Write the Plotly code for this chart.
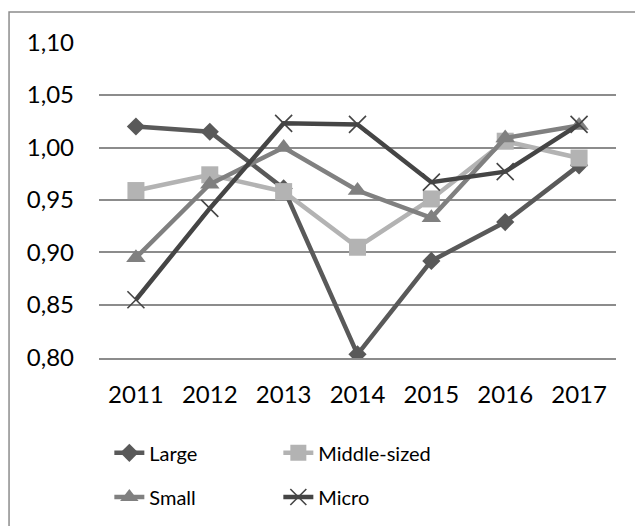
import plotly.graph_objects as go

years = ["2011", "2012", "2013", "2014", "2015", "2016", "2017"]
large = [1.020, 1.015, 0.961, 0.803, 0.892, 0.929, 0.983]
middle = [0.959, 0.974, 0.958, 0.905, 0.951, 1.006, 0.990]
small = [0.895, 0.965, 1.000, 0.959, 0.933, 1.009, 1.021]
micro = [0.855, 0.942, 1.023, 1.022, 0.967, 0.977, 1.022]

y_ticks = [0.80, 0.85, 0.90, 0.95, 1.00, 1.05, 1.10]

FONT = "Lato, 'Open Sans', sans-serif"

fig = go.Figure()

series = [
    ("Large", large, "#595959", dict(symbol="diamond", size=14), "legend"),
    ("Middle-sized", middle, "#b3b3b3", dict(symbol="square", size=17), "legend"),
    ("Small", small, "#808080", dict(symbol="triangle-up", size=17), "legend2"),
    ("Micro", micro, "#454545",
     dict(symbol="x-thin-open", size=17, line=dict(width=1.6, color="#454545")), "legend2"),
]

for name, vals, color, marker, leg in series:
    m = dict(color=color)
    m.update(marker)
    fig.add_trace(go.Scatter(
        x=years, y=vals, name=name, mode="lines+markers",
        line=dict(color=color, width=4.5),
        marker=m, legend=leg,
    ))

legend_common = dict(
    orientation="h", xanchor="left", yanchor="middle",
    font=dict(family=FONT, size=20, color="#000000"),
    entrywidth=124, bgcolor="rgba(0,0,0,0)", itemclick=False,
)

fig.update_layout(
    width=635, height=526,
    margin=dict(l=99, r=19, t=42, b=168, autoexpand=False),
    paper_bgcolor="white", plot_bgcolor="white",
    separators=", ",
    font=dict(family=FONT, size=24, color="#000000"),
    showlegend=True,
    legend=dict(x=0.02, y=-0.30, **legend_common),
    legend2=dict(x=0.02, y=-0.44, **legend_common),
    xaxis=dict(
        type="category", range=[-0.5, 6.5],
        showgrid=False, showline=True, linecolor="#8c8c8c", linewidth=1.5,
        ticks="", ticklabelstandoff=14, tickfont=dict(size=24),
    ),
    yaxis=dict(
        range=[0.7995, 1.1005], tickvals=y_ticks, tickformat=".2f",
        showgrid=True, gridcolor="#8c8c8c", gridwidth=1.5,
        zeroline=False, showline=False,
        ticks="", ticklabelstandoff=24, tickfont=dict(size=24),
    ),
    shapes=[dict(
        type="rect", xref="paper", yref="paper",
        x0=-0.174, x1=1.2, y0=-1.0, y1=1.095,
        line=dict(color="#8c8c8c", width=1.5), fillcolor="rgba(0,0,0,0)",
        layer="below",
    )],
)

fig.write_html("out.html")
